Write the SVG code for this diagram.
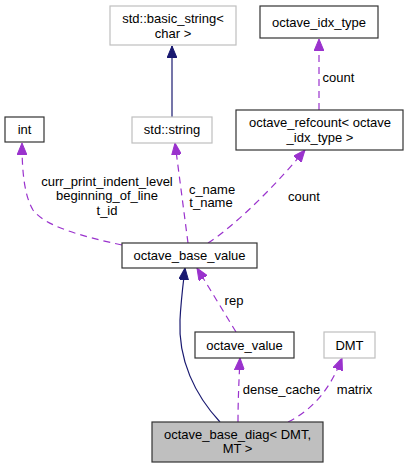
<svg xmlns="http://www.w3.org/2000/svg" width="408" height="468" viewBox="0 0 408 468">
<style>
text{font-family:"Liberation Sans",Arial,sans-serif;font-size:13px;fill:#000;text-anchor:middle}
.n{fill:#fff;stroke:#333;stroke-width:1.2}
.g{fill:#fff;stroke:#bfbfbf;stroke-width:1.2}
.d{fill:#bfbfbf;stroke:#333;stroke-width:1.2}
.u{fill:none;stroke:#9a32cd;stroke-width:1.2;stroke-dasharray:7,5;marker-end:url(#ap)}
.i{fill:none;stroke:#191970;stroke-width:1.2;marker-end:url(#an)}
</style>
<defs>
<marker id="ap" markerUnits="userSpaceOnUse" viewBox="0 0 12 10" refX="12" refY="5" markerWidth="12" markerHeight="10" orient="auto"><path d="M0,0 L12,5 L0,10 z" fill="#9a32cd" stroke="#9a32cd"/></marker>
<marker id="an" markerUnits="userSpaceOnUse" viewBox="0 0 12 10" refX="12" refY="5" markerWidth="12" markerHeight="10" orient="auto"><path d="M0,0 L12,5 L0,10 z" fill="#191970" stroke="#191970"/></marker>
</defs>
<rect width="408" height="468" fill="#fff"/>
<g id="edges">
<path class="i" d="M172,117 L172,46"/>
<path class="u" d="M122,245 C80,236 45,226 33,210 C24,195 22,170 22,143"/>
<path class="u" d="M188,243 L175,143"/>
<path class="u" d="M208,243 C240,222 280,180 305,150"/>
<path class="u" d="M319,110 L319,39"/>
<path class="i" d="M220,422 C195,395 178,360 180,320 C181,300 183,285 185,268"/>
<path class="u" d="M236,332 L197,268"/>
<path class="u" d="M238,422 C238,400 239,380 240,358"/>
<path class="u" d="M288,422 C312,410 330,390 342,358"/>
<text x="107" y="185.5">curr_print_indent_level</text>
<text x="107" y="199.5">beginning_of_line</text>
<text x="107" y="214.5">t_id</text>
<text x="212" y="193.5">c_name</text>
<text x="211" y="207">t_name</text>
<text x="304" y="200.5">count</text>
<text x="338.5" y="81.5">count</text>
<text x="234" y="304.5">rep</text>
<text x="281.5" y="393.5">dense_cache</text>
<text x="354.5" y="393.5">matrix</text>
</g>
<g id="basic_string"><rect class="g" x="110" y="6" width="126" height="39"/><text x="173" y="23">std::basic_string&lt;</text><text x="173" y="38">char &gt;</text></g>
<g id="octave_idx_type"><rect class="n" x="260" y="6" width="118" height="32"/><text x="319" y="26.5">octave_idx_type</text></g>
<g id="int"><rect class="n" x="5" y="117" width="39" height="25"/><text x="24.5" y="134">int</text></g>
<g id="std_string"><rect class="g" x="132" y="117" width="80" height="26"/><text x="172" y="134">std::string</text></g>
<g id="octave_refcount"><rect class="n" x="236" y="110" width="167" height="40"/><text x="320" y="126.5">octave_refcount&lt; octave</text><text x="320" y="141.5">_idx_type &gt;</text></g>
<g id="octave_base_value"><rect class="n" x="122" y="243" width="135" height="25"/><text x="189.5" y="260">octave_base_value</text></g>
<g id="octave_value"><rect class="n" x="195" y="332" width="99" height="26"/><text x="244.5" y="349.5">octave_value</text></g>
<g id="DMT"><rect class="g" x="324" y="332" width="51" height="26"/><text x="349.5" y="349.5">DMT</text></g>
<g id="octave_base_diag"><rect class="d" x="152" y="422" width="171" height="40"/><text x="237.5" y="438.5">octave_base_diag&lt; DMT,</text><text x="237.5" y="452.5">MT &gt;</text></g>
</svg>
